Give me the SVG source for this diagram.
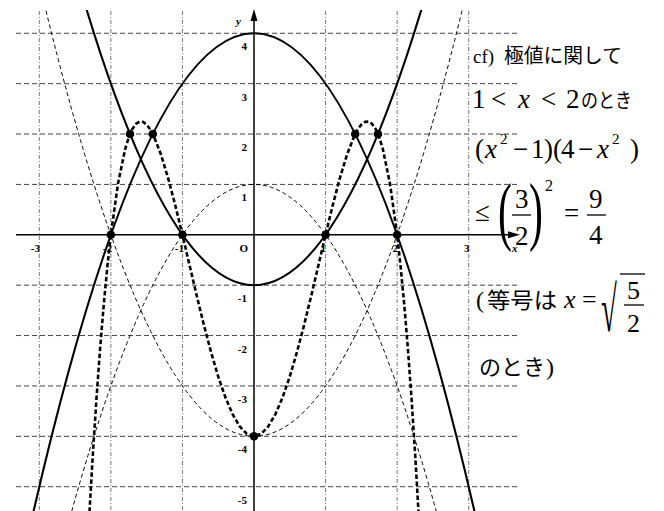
<svg xmlns="http://www.w3.org/2000/svg" width="664" height="511" viewBox="0 0 664 511">
<style>
.gh{stroke:#444;stroke-width:1;stroke-dasharray:5 3;fill:none}
.gv{stroke:#777;stroke-width:1;stroke-dasharray:4 2 1 2;fill:none}
.ax{stroke:#000;stroke-width:1.5;fill:none}
.solid{stroke:#000;stroke-width:2.1;fill:none}
.thin{stroke:#000;stroke-width:1;stroke-dasharray:4 3;fill:none}
.thick{stroke:#000;stroke-width:2.6;stroke-dasharray:4.5 2.5;fill:none;stroke-linejoin:round}
.lab{font-family:"Liberation Serif",serif;font-size:11px;font-weight:bold;fill:#000}
.m{font-family:"Liberation Serif",serif;fill:#000}
.j{font-family:"Noto Sans CJK JP","Liberation Serif",sans-serif;fill:#000}
.i{font-style:italic}
.bar{stroke:#000;stroke-width:1.3}
</style>
<defs>
<clipPath id="plot"><rect x="0" y="10" width="664" height="501"/></clipPath>
</defs>
<rect width="664" height="511" fill="#fff"/>
<g id="grid">
<line class="gh" x1="16" y1="33.28" x2="520" y2="33.28"/>
<line class="gh" x1="16" y1="83.66" x2="520" y2="83.66"/>
<line class="gh" x1="16" y1="134.04" x2="520" y2="134.04"/>
<line class="gh" x1="16" y1="184.42" x2="520" y2="184.42"/>
<line class="gh" x1="16" y1="285.18" x2="520" y2="285.18"/>
<line class="gh" x1="16" y1="335.56" x2="520" y2="335.56"/>
<line class="gh" x1="16" y1="385.94" x2="520" y2="385.94"/>
<line class="gh" x1="16" y1="436.32" x2="520" y2="436.32"/>
<line class="gh" x1="16" y1="486.7" x2="520" y2="486.7"/>
<line class="gv" x1="39.29" y1="11" x2="39.29" y2="511"/>
<line class="gv" x1="110.86" y1="11" x2="110.86" y2="511"/>
<line class="gv" x1="182.43" y1="11" x2="182.43" y2="511"/>
<line class="gv" x1="325.57" y1="11" x2="325.57" y2="511"/>
<line class="gv" x1="397.14" y1="11" x2="397.14" y2="511"/>
<line class="gv" x1="468.71" y1="11" x2="468.71" y2="511"/>
</g>
<g id="axes">
<line class="ax" x1="16" y1="234.8" x2="512" y2="234.8"/>
<polygon points="520,234.8 508,231.3 508,238.3" fill="#000"/>
<line class="ax" x1="254" y1="511" x2="254" y2="18"/>
<polygon points="254,9 250.5,21 257.5,21" fill="#000"/>
<text class="lab i" x="236" y="25" font-weight="normal">y</text>
<text class="lab i" x="512" y="252" font-weight="normal">x</text>
<text class="lab" text-anchor="end" x="247" y="50.3">4</text>
<text class="lab" text-anchor="end" x="247" y="100.7">3</text>
<text class="lab" text-anchor="end" x="247" y="151">2</text>
<text class="lab" text-anchor="end" x="247" y="201.4">1</text>
<text class="lab" text-anchor="end" x="248" y="251.8">O</text>
<text class="lab" text-anchor="end" x="247" y="302.2">-1</text>
<text class="lab" text-anchor="end" x="247" y="352.6">-2</text>
<text class="lab" text-anchor="end" x="247" y="403">-3</text>
<text class="lab" text-anchor="end" x="247" y="453.3">-4</text>
<text class="lab" text-anchor="end" x="247" y="503.7">-5</text>
<text class="lab" text-anchor="end" x="40" y="252">-3</text>
<text class="lab" text-anchor="end" x="112" y="252">-2</text>
<text class="lab" text-anchor="end" x="184" y="252">-1</text>
<text class="lab" text-anchor="end" x="326" y="252">1</text>
<text class="lab" text-anchor="end" x="398" y="252">2</text>
<text class="lab" text-anchor="end" x="469.5" y="252">3</text>
</g>
<g id="curves" clip-path="url(#plot)">
<path id="c-4mx2" class="solid" d="M32.13,517.43 Q254,-450.87 475.87,517.43"/>
<path id="c-x2m1" class="solid" d="M85.81,6.96 Q254,563.4 422.19,6.96"/>
<path id="c-x2m4" class="thin" d="M44.3,3.81 Q254,868.83 463.7,3.81"/>
<path id="c-1mx2" class="thin" d="M67.92,524.99 Q254,-156.15 440.08,524.99"/>
<polyline id="c-prod" class="thick" points="85.81,581.69 89.39,513.61 92.97,452.26 96.55,397.31 100.12,348.41 103.7,305.24 107.28,267.47 110.86,234.8 118.02,183.52 125.17,149.03 128.75,137.39 132.33,129.11 135.91,123.94 139.49,121.63 143.07,121.92 146.64,124.59 150.22,129.41 153.8,136.14 160.96,154.5 168.12,178.05 175.27,205.28 182.43,234.8 189.59,265.34 196.74,295.74 203.9,324.99 211.06,352.16 218.21,376.49 225.37,397.31 232.53,414.06 239.69,426.32 246.84,433.81 254,436.32 261.16,433.81 268.31,426.32 275.47,414.06 282.63,397.31 289.79,376.49 296.94,352.16 304.1,324.99 311.26,295.74 318.41,265.34 325.57,234.8 332.73,205.28 339.88,178.05 347.04,154.5 354.2,136.14 357.78,129.41 361.36,124.59 364.93,121.92 368.51,121.63 372.09,123.94 375.67,129.11 379.25,137.39 382.83,149.03 389.98,183.52 397.14,234.8 400.72,267.47 404.3,305.24 407.88,348.41 411.45,397.31 415.03,452.26 418.61,513.61 422.19,581.69"/>
</g>
<g id="points" fill="#000">
<circle cx="110.86" cy="234.8" r="4.3"/>
<circle cx="182.43" cy="234.8" r="4.3"/>
<circle cx="325.57" cy="234.8" r="4.3"/>
<circle cx="397.14" cy="234.8" r="4.3"/>
<circle cx="130.04" cy="134.04" r="4.3"/>
<circle cx="152.78" cy="134.04" r="4.3"/>
<circle cx="355.22" cy="134.04" r="4.3"/>
<circle cx="377.96" cy="134.04" r="4.3"/>
<circle cx="254" cy="436.32" r="4.3"/>
</g>
<g id="notes">
<text class="m" x="473" y="63" font-size="19">cf)</text>
<text class="j" x="504" y="63" font-size="20" textLength="118" lengthAdjust="spacingAndGlyphs">極値に関して</text>
<text class="m" x="472" y="108" font-size="27">1</text>
<text class="m" x="491" y="108" font-size="27">&lt;</text>
<text class="m i" x="518" y="108" font-size="27">x</text>
<text class="m" x="541" y="108" font-size="27">&lt;</text>
<text class="m" x="566" y="108" font-size="27">2</text>
<text class="j" x="581" y="108" font-size="20" textLength="51" lengthAdjust="spacingAndGlyphs">のとき</text>
<text class="m" x="475" y="158" font-size="27">(</text>
<text class="m i" x="485" y="158" font-size="27">x</text>
<text class="m" x="500" y="144" font-size="15">2</text>
<text class="m" x="513" y="158" font-size="27">−</text>
<text class="m" x="531" y="158" font-size="27">1</text>
<text class="m" x="544" y="158" font-size="27">)</text>
<text class="m" x="553" y="158" font-size="27">(</text>
<text class="m" x="561" y="158" font-size="27">4</text>
<text class="m" x="578" y="158" font-size="27">−</text>
<text class="m i" x="597" y="158" font-size="27">x</text>
<text class="m" x="612" y="144" font-size="15">2</text>
<text class="m" x="630" y="158" font-size="27">)</text>
<text class="m" x="475" y="221" font-size="27">≤</text>
<text class="m" font-size="76" transform="translate(498,236) scale(0.55,1)">(</text>
<text class="m" x="515" y="208" font-size="27">3</text>
<text class="m" x="515" y="245" font-size="27">2</text>
<text class="m" font-size="76" transform="translate(529,236) scale(0.55,1)">)</text>
<text class="m" x="545" y="191" font-size="16">2</text>
<text class="m" x="564" y="222" font-size="27">=</text>
<text class="m" x="589" y="208" font-size="27">9</text>
<text class="m" x="589" y="244" font-size="27">4</text>
<line class="bar" x1="512" y1="215" x2="531" y2="215"/>
<line class="bar" x1="587" y1="215" x2="606" y2="215"/>
<text class="m" x="476" y="308" font-size="24">(</text>
<text class="j" x="487" y="308" font-size="22" textLength="70" lengthAdjust="spacingAndGlyphs">等号は</text>
<text class="m i" x="564" y="308" font-size="26">x</text>
<text class="m" x="582" y="308" font-size="26">=</text>
<text class="m" font-size="64" transform="translate(601,331) scale(0.45,1)">√</text>
<line class="bar" x1="620" y1="274" x2="645" y2="274"/>
<text class="m" x="627" y="299" font-size="26">5</text>
<line class="bar" x1="624" y1="305" x2="644" y2="305"/>
<text class="m" x="627" y="332" font-size="26">2</text>
<text class="j" x="479" y="375" font-size="22" textLength="66" lengthAdjust="spacingAndGlyphs">のとき</text>
<text class="m" x="546" y="375" font-size="24">)</text>
</g>
</svg>
